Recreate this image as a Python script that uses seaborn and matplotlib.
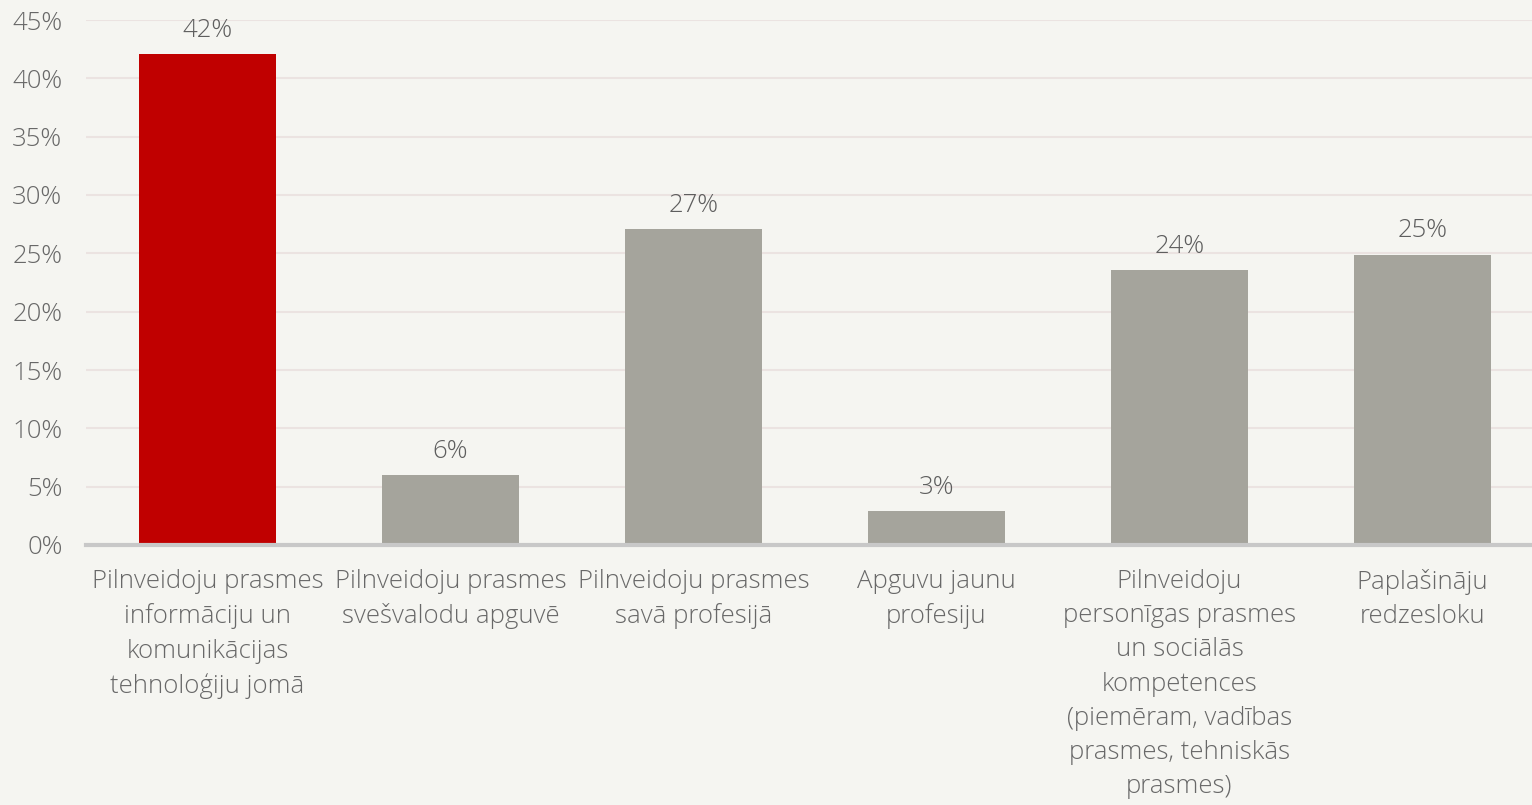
import matplotlib
matplotlib.use("Agg")
import matplotlib.pyplot as plt
import seaborn as sns
import pandas as pd

categories = [
    "Pilnveidoju prasmes\ninformāciju un\nkomunikācijas\ntehnoloģiju jomā",
    "Pilnveidoju prasmes\nsvešvalodu apguvē",
    "Pilnveidoju prasmes\nsavā profesijā",
    "Apguvu jaunu\nprofesiju",
    "Pilnveidoju\npersonīgas prasmes\nun sociālās\nkompetences\n(piemēram, vadības\nprasmes, tehniskās\nprasmes)",
    "Paplašināju\nredzesloku",
]
values = [42.1, 6.0, 27.1, 2.9, 23.6, 24.9]
bar_colors = ["#C00000", "#A5A49C", "#A5A49C", "#A5A49C", "#A5A49C", "#A5A49C"]
y_ticks = [0, 5, 10, 15, 20, 25, 30, 35, 40, 45]

bg = "#F5F5F1"
text_color = "#686868"

sns.set_theme(style="white")
plt.rcParams["font.family"] = ["Open Sans", "DejaVu Sans"]
plt.rcParams["font.weight"] = 300

df = pd.DataFrame({"cat": categories, "val": values})

fig = plt.figure(figsize=(15.32, 8.05), dpi=100, facecolor=bg)
ax = fig.add_axes([86 / 1532, 260 / 805, 1458 / 1532, 525 / 805])
ax.set_facecolor(bg)

sns.barplot(data=df, x="cat", y="val", hue="cat", palette=bar_colors,
            legend=False, width=0.56, saturation=1, linewidth=0, ax=ax, zorder=3)

ax.set_ylim(0, 45)
ax.set_xlim(-0.5, 5.5)
ax.set_yticks(y_ticks)
ax.set_yticklabels([f"{t}%" for t in y_ticks])
ax.yaxis.grid(True, color="#EBE3E1", linewidth=1.5, zorder=0)
ax.set_axisbelow(True)

for s in ["top", "right", "left"]:
    ax.spines[s].set_visible(False)
ax.spines["bottom"].set_color("#C8C8C8")
ax.spines["bottom"].set_linewidth(3)
ax.spines["bottom"].set_zorder(4)

ax.tick_params(axis="both", length=0, colors=text_color, labelsize=18.5)
ax.tick_params(axis="x", pad=17)
ax.tick_params(axis="y", pad=17)
for lab in ax.get_xticklabels():
    lab.set_linespacing(1.49)
    lab.set_color(text_color)

ax.set_xlabel("")
ax.set_ylabel("")

for i, v in enumerate(values):
    ax.annotate(f"{round(v)}%", xy=(i, v), xytext=(0, 8), textcoords="offset points",
                ha="center", va="bottom", fontsize=18.5, color="#5E5E5E")

fig.savefig("out.png", dpi=100, facecolor=bg)
